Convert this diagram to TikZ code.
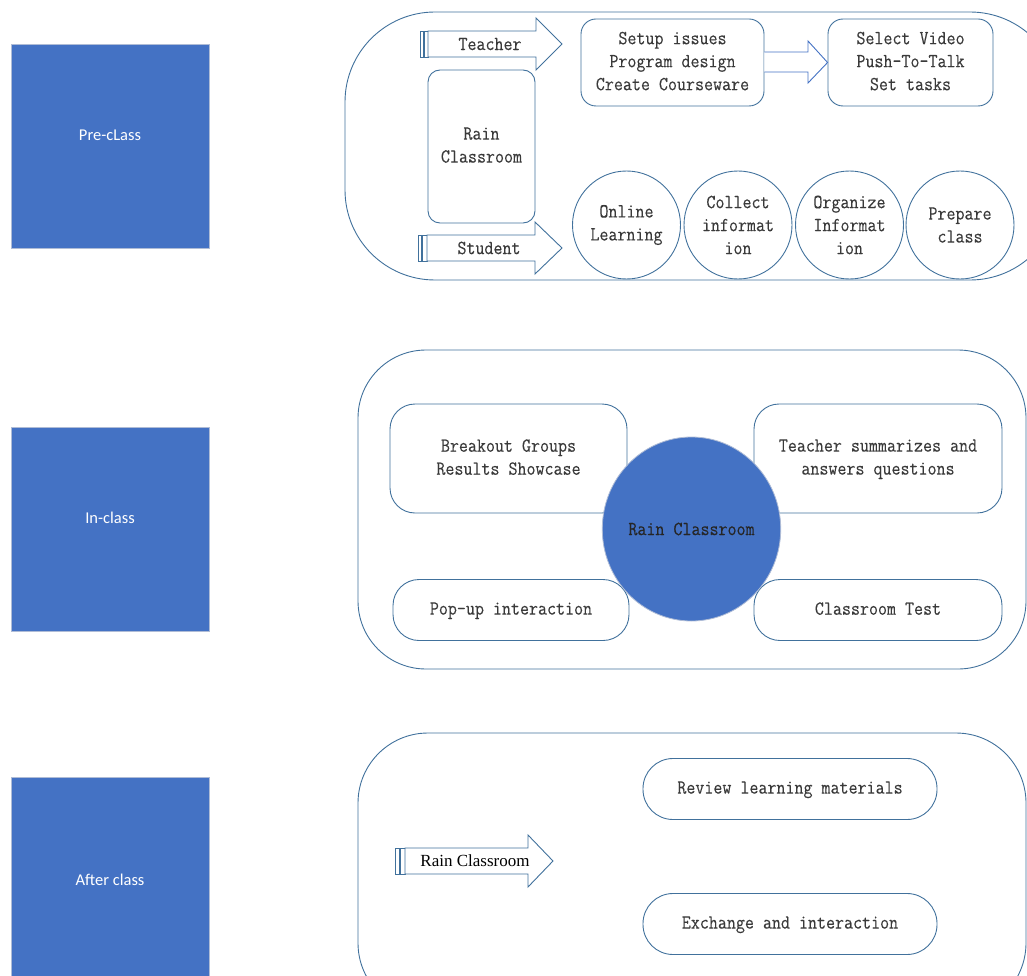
\documentclass[tikz,border=0pt]{standalone}
\usepackage{fontspec}
\setsansfont{Carlito}
\newfontfamily\timesf{Liberation Serif}
\newfontfamily\monof[FakeStretch=0.875,FakeBold=0.2]{Latin Modern Mono}
\usetikzlibrary{shapes.geometric}
\definecolor{bfill}{HTML}{4472C4}
\definecolor{bedge}{HTML}{AFBCD6}
\definecolor{lcol}{HTML}{41719C}
\definecolor{tcol}{HTML}{3A3A3A}
\begin{document}
\begin{tikzpicture}[x=1pt,y=-1pt,
  mfont/.style={font=\monof\fontsize{20pt}{23pt}\selectfont},
  phase/.style={draw=bedge,line width=0.8pt,fill=bfill,minimum width=198pt,minimum height=204pt,inner sep=0pt},
  ptext/.style={text=white,inner sep=0pt,font=\sffamily\fontsize{16.5pt}{19pt}\selectfont},
  cont/.style={draw=lcol,line width=0.9pt,inner sep=0pt},
  rbox/.style={draw=lcol,line width=0.9pt,rounded corners=#1,inner sep=0pt,align=center,text=tcol,mfont,text depth=0.3em},
  rbox/.default=15pt,
  circ/.style={draw=lcol,line width=0.9pt,circle,minimum size=108pt,inner sep=0pt,align=center,text=tcol,mfont},
  arr/.style={draw=lcol,line width=0.9pt,fill=white},
  lbl/.style={text=tcol,inner sep=0pt,mfont}
]
\useasboundingbox (0,0) rectangle (1027,976);
\clip (0,0) rectangle (1027,976);

% phase squares
\node[phase] (pre) at (110,146) {};
\node[ptext] (pretext) at (110,135) {Pre-cLass};
\node[phase] (in) at (110,529) {};
\node[ptext] (intext) at (110,518) {In-class};
\node[phase] (after) at (110,879) {};
\node[ptext] (aftertext) at (110,880) {After class};

% containers
\node[cont,rounded corners=90pt,minimum width=715pt,minimum height=268pt] (c1) at (702.5,146) {};
\node[cont,rounded corners=68pt,minimum width=668pt,minimum height=319pt] (c2) at (692,509.5) {};
\node[cont,rounded corners=70pt,minimum width=668pt,minimum height=280pt] (c3) at (692,873) {};

% ---------- Pre-class ----------
% Teacher arrow
\draw[arr] (420,31) rectangle (423.5,57);
\draw[arr] (424.5,31) rectangle (428,57);
\draw[arr] (428,31) -- (536,31) -- (536,18) -- (562,44) -- (536,70) -- (536,57) -- (428,57) -- cycle;
\node[lbl] (teacher) at (490,44) {Teacher};
% Student arrow
\draw[arr] (418,235) rectangle (421.5,261);
\draw[arr] (422.5,235) rectangle (427,261);
\draw[arr] (427,235) -- (535,235) -- (535,222) -- (562,248) -- (535,274) -- (535,261) -- (427,261) -- cycle;
\node[lbl] (student) at (489,248) {Student};

\node[rbox=12pt,minimum width=107pt,minimum height=153pt] (rain1) at (481.5,146.5) {Rain\\Classroom};

\node[rbox,minimum width=183pt,minimum height=87pt] (setup) at (672.5,62.5) {Setup issues\\Program design\\Create Courseware};
\node[rbox,minimum width=165pt,minimum height=87pt] (select) at (910.5,62.5) {Select Video\\Push-To-Talk\\Set tasks};
% arrow between
\draw[draw=bfill,line width=0.9pt,fill=white] (setup.east |- 0,52) -- (808,52) -- (808,41) -- (select.west) -- (808,83) -- (808,72) -- (setup.east |- 0,72);

\node[circ] (online) at (626.5,225) {Online\\Learning};
\node[circ] (collect) at (738,225) {Collect\\informat\\ion};
\node[circ] (organize) at (849.5,225) {Organize\\Informat\\ion};
\node[circ] (prepare) at (960,225) {Prepare\\class};

% ---------- In-class ----------
\node[rbox=25pt,minimum width=237pt,minimum height=109pt] (breakout) at (508.5,458.5) {Breakout Groups\\Results Showcase};
\node[rbox=25pt,minimum width=248pt,minimum height=109pt] (summ) at (878,458.5) {Teacher summarizes and\\answers questions};
\node[rbox=26pt,minimum width=236pt,minimum height=61pt] (popup) at (511,610) {Pop-up interaction};
\node[rbox=26pt,minimum width=248pt,minimum height=61pt] (test) at (878,610) {Classroom Test};
\node[ellipse,draw=bedge,line width=0.8pt,fill=bfill,minimum width=177pt,minimum height=184pt,inner sep=0pt,text=black!85,mfont] (rainc) at (691.5,529) {Rain Classroom};

% ---------- After class ----------
\draw[arr] (395,848) rectangle (399,874);
\draw[arr] (400,848) rectangle (405,874);
\draw[arr] (405,848) -- (528,848) -- (528,835) -- (553,861) -- (528,887) -- (528,874) -- (405,874) -- cycle;
\node[inner sep=0pt,text=black,font=\timesf\fontsize{17pt}{20pt}\selectfont] (rain3) at (475,861) {Rain Classroom};

\node[rbox=30pt,minimum width=294pt,minimum height=61pt] (review) at (790,789) {Review learning materials};
\node[rbox=30pt,minimum width=294pt,minimum height=61pt] (exch) at (790,924) {Exchange and interaction};
\end{tikzpicture}
\end{document}
